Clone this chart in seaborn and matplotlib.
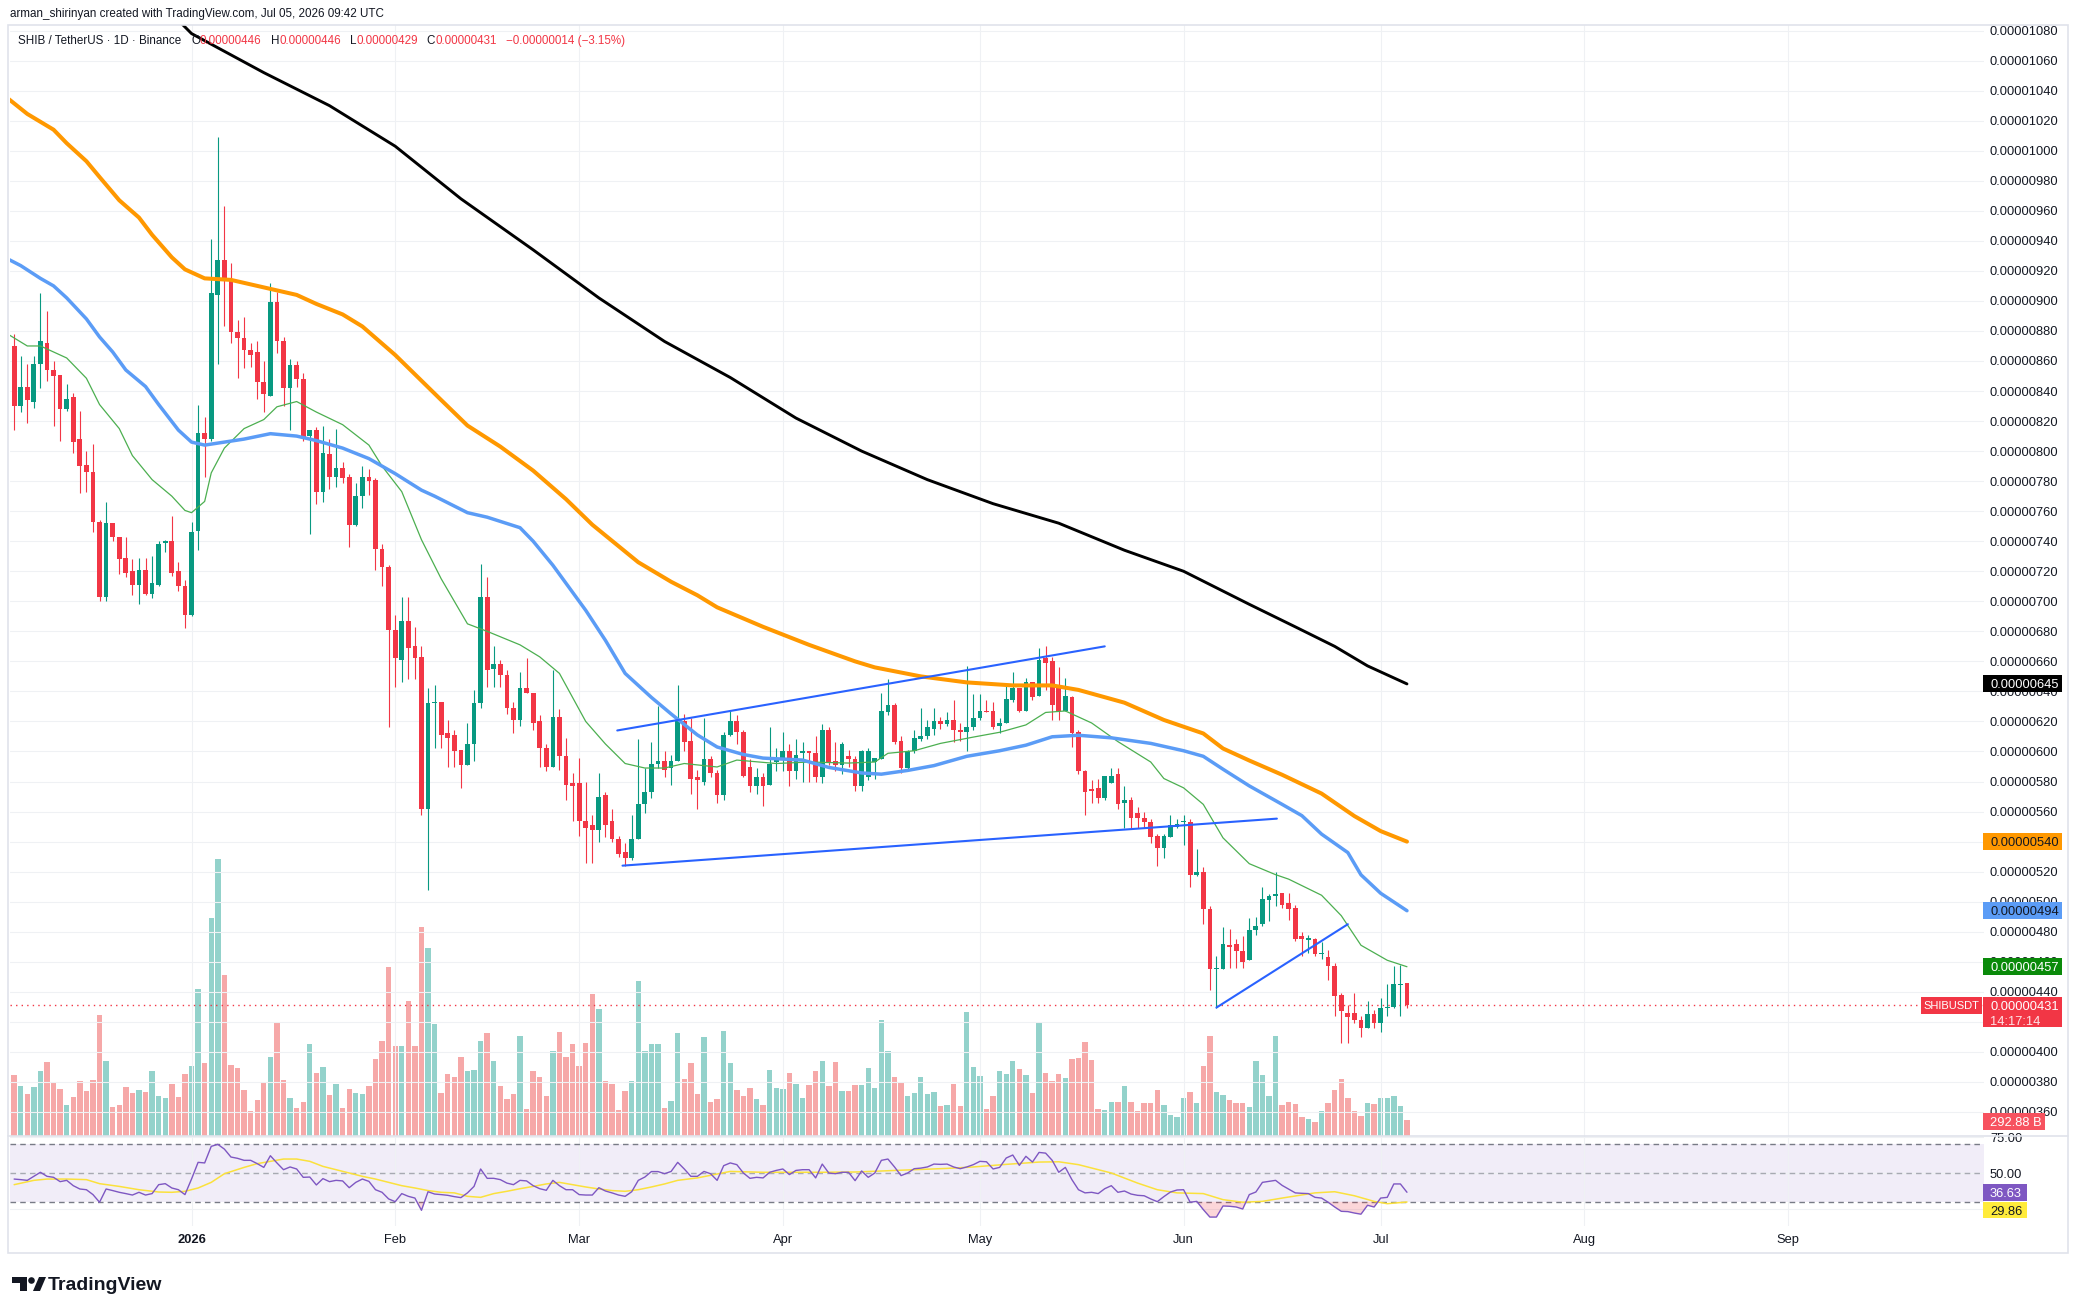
import numpy as np
import pandas as pd
import matplotlib
matplotlib.use("Agg")
import matplotlib.pyplot as plt
import matplotlib.transforms as mtransforms
from matplotlib.patches import Rectangle, Ellipse, Polygon
from matplotlib.lines import Line2D
from matplotlib.ticker import FuncFormatter
import seaborn as sns

sns.set_theme(style="white")
plt.rcParams['font.family'] = ['Liberation Sans', 'DejaVu Sans']

# prices are in units of 1e-8 USDT, volumes in billions of SHIB
first_day = "2025-12-05"

opens = [870, 830, 843, 833, 858, 872, 854, 851, 828, 836,
         808, 791, 786, 753, 703, 752, 743, 729, 720, 711,
         721, 705, 711, 739, 740, 720, 710, 691, 747, 812,
         808, 904, 927, 913, 879, 875, 867, 866, 846, 837,
         899, 873, 842, 857, 848, 810, 814, 773, 798, 783,
         789, 783, 751, 770, 783, 781, 735, 723, 681, 661,
         687, 670, 663, 562, 632, 633, 612, 611, 601, 591,
         605, 632, 703, 655, 658, 651, 629, 621, 642, 639,
         620, 602, 590, 623, 597, 579, 579, 554, 551, 548,
         571, 554, 542, 533, 529, 542, 565, 573, 592, 594,
         589, 594, 620, 607, 583, 580, 595, 586, 571, 611,
         620, 613, 590, 577, 583, 578, 593, 596, 600, 587,
         599, 600, 599, 583, 614, 594, 591, 597, 595, 577,
         583, 593, 595, 626, 631, 607, 589, 600, 608, 610,
         615, 620, 618, 621, 614, 613, 616, 622, 627, 627,
         617, 619, 634, 642, 627, 646, 637, 662, 660, 642,
         627, 636, 613, 587, 575, 576, 569, 579, 585, 566,
         568, 559, 556, 553, 544, 536, 543, 550, 553, 553,
         518, 520, 495, 455, 455, 471, 472, 467, 461, 481,
         485, 501, 504, 506, 499, 496, 477, 474.5, 475, 465,
         463, 457, 438, 426, 426, 421, 416, 425, 419, 429,
         430, 444.5, 446]

highs = [878, 863, 858, 863, 905, 893, 860, 851, 845, 839,
         827, 800, 805, 754, 766, 752, 743, 743, 728, 729,
         729, 730, 740, 741, 757, 726, 714, 753, 831, 823,
         941, 1009, 963, 925, 887, 889, 872, 873, 860, 912,
         906, 876, 861, 860, 852, 814, 816, 817, 808, 815,
         793, 785, 779, 790, 788, 782, 738, 724, 691, 703,
         703, 683, 670, 642, 644, 633, 621, 614, 601, 619,
         641, 725, 716, 670, 661, 654, 633, 653, 662, 639,
         624, 605, 654, 628, 609, 586, 596, 580, 558, 586,
         573, 562, 544, 539, 558, 608, 589, 606, 630, 600,
         598, 644, 625, 622, 588, 622, 597, 588, 613, 627,
         624, 614, 595, 589, 586, 616, 602, 613, 605, 608,
         606, 600, 610, 618, 616, 606, 606, 601, 597, 601,
         602, 596, 639, 648, 632, 610, 601, 614, 629, 621,
         629, 623, 626, 634, 619, 657, 638, 638, 634, 633,
         622, 644, 653, 642, 649, 646, 669, 670, 663, 656,
         649, 637, 614, 588, 581, 582, 584, 589, 589, 577,
         570, 563, 560, 555, 545, 545, 558, 555, 558, 555,
         535, 523, 497, 464, 483, 482, 475, 477, 489, 490,
         510, 505, 520, 506, 506, 498, 480, 478, 476, 473,
         468, 459, 439, 431, 439, 424, 434, 428, 436, 445,
         457, 458, 446]

lows = [814, 826, 819, 829, 842, 847, 817, 807, 827, 799,
        772, 773, 746, 700, 700, 740, 718, 716, 704, 698,
        704, 702, 710, 733, 717, 707, 682, 690, 734, 783,
        807, 858, 883, 872, 849, 855, 856, 835, 826, 837,
        865, 830, 814, 843, 807, 745, 765, 766, 775, 776,
        779, 736, 750, 762, 771, 721, 710, 616, 643, 646,
        648, 648, 558, 508, 602, 602, 590, 590, 576, 591,
        594, 629, 643, 643, 643, 625, 612, 617, 639, 614,
        590, 587, 590, 588, 568, 554, 544, 526, 526, 540,
        543, 540, 530, 524, 528, 542, 559, 569, 589, 583,
        578, 594, 600, 572, 562, 578, 583, 566, 568, 610,
        605, 583, 573, 572, 564, 578, 587, 587, 577, 582,
        580, 580, 580, 579, 591, 587, 585, 590, 574, 574,
        581, 582, 595, 624, 605, 586, 587, 599, 607, 608,
        611, 615, 617, 606, 607, 600, 614, 621, 626, 615,
        612, 619, 633, 626, 627, 634, 637, 641, 621, 621,
        627, 603, 585, 558, 566, 566, 568, 579, 562, 549,
        549, 549, 549, 539, 524, 529, 543, 549, 538, 510,
        517, 485, 441, 429, 455, 456, 456, 456, 461, 478,
        484, 487, 497, 496, 488, 474, 464, 466, 464, 462,
        448, 424, 406, 406, 419, 410, 416, 416, 413, 424,
        429, 424, 429]

closes = [830, 843, 834, 858, 873, 854, 850, 828, 835, 806,
          790, 786, 753, 703, 752, 743, 728, 719, 711, 721,
          705, 712, 738, 740, 719, 710, 691, 746, 812, 808,
          905, 927, 913, 879, 875, 867, 864, 846, 838, 899,
          873, 842, 857, 848, 809, 814, 773, 799, 783, 789,
          782, 751, 770, 783, 780, 735, 723, 681, 662, 687,
          669, 662, 562, 632, 633, 611, 609, 600, 591, 605,
          632, 703, 654, 658, 651, 629, 621, 642, 639, 619,
          602, 590, 623, 597, 578, 577, 554, 549, 548, 570,
          551, 542, 532, 529, 542, 565, 573, 592, 594, 588,
          594, 620, 606, 582, 581, 595, 586, 571, 611, 620,
          613, 584, 577, 583, 577, 592, 596, 600, 587, 598,
          600, 599, 583, 614, 593, 591, 605, 595, 577, 600,
          600, 596, 627, 631, 606, 589, 600, 609, 610, 616,
          620, 618, 621, 614, 613, 616, 622, 627, 626, 616,
          619, 635, 642, 627, 646, 636, 661, 659, 631, 627,
          637, 612, 587, 573, 574, 569, 584, 584, 565, 568,
          556, 556, 553, 543, 536, 544, 551, 552, 553.5, 518,
          520, 495, 455, 456, 472, 470, 467, 460, 481, 484,
          502, 504, 505, 498, 495, 475, 475, 475.5, 465, 466,
          457, 437, 427, 423, 421, 416, 425, 419, 429, 430,
          445, 445.5, 431]

volumes = [1148, 940, 793, 926, 1225, 1392, 1002, 884, 585, 738,
           1037, 849, 1058, 2276, 1413, 550, 585, 926, 807, 870,
           828, 1225, 752, 717, 981, 738, 1169, 1315, 2770, 1378,
           4106, 5213, 3028, 1336, 1281, 870, 473, 682, 1002, 1489,
           2130, 1058, 717, 529, 640, 1733, 1190, 1301, 773, 981,
           529, 884, 807, 781, 949, 1455, 1792, 3184, 1685, 1685,
           2546, 1685, 3938, 3539, 2111, 816, 1171, 1100, 1490, 1215,
           1233, 1792, 1943, 1401, 949, 701, 781, 1889, 514, 1215,
           1100, 745, 1605, 1960, 1490, 1739, 1322, 1756, 2661, 2395,
           1038, 985, 497, 852, 1038, 2918, 1605, 1721, 1739, 532,
           665, 1943, 1064, 1366, 781, 1854, 648, 701, 1977, 1378,
           870, 745, 905, 696, 585, 1246, 905, 884, 1183, 974,
           717, 960, 1225, 1406, 947, 1392, 849, 849, 967, 960,
           1281, 905, 2185, 1601, 1114, 1009, 745, 800, 1114, 786,
           828, 557, 585, 974, 564, 2332, 1288, 1134, 508, 745,
           1218, 1162, 1406, 1267, 1141, 800, 2144, 1176, 1037, 1162,
           1093, 1441, 1476, 1768, 1427, 508, 494, 640, 640, 940,
           640, 473, 619, 619, 870, 585, 397, 362, 717, 828,
           619, 1322, 1886, 828, 773, 675, 626, 626, 550, 1406,
           1155, 752, 1886, 585, 640, 599, 362, 320, 258, 473,
           626, 870, 1072, 710, 473, 376, 612, 599, 710, 710,
           752, 557, 292.88]

rsi = [45.8, 45.4, 44.9, 47.7, 50.5, 47.7, 47.0, 44.0, 44.9, 41.2,
       38.9, 38.4, 35.0, 29.7, 38.9, 37.8, 36.6, 35.7, 34.7, 36.6,
       34.7, 35.7, 41.9, 42.6, 39.6, 38.4, 35.0, 45.8, 57.4, 57.0,
       68.5, 69.9, 66.6, 61.1, 60.2, 58.8, 58.8, 56.5, 53.9, 62.0,
       57.0, 52.3, 54.2, 52.8, 47.0, 47.2, 41.7, 46.1, 44.0, 44.9,
       44.5, 39.8, 43.5, 45.8, 44.2, 38.4, 36.6, 32.0, 30.1, 35.7,
       33.8, 32.6, 24.1, 37.0, 35.4, 35.0, 34.5, 33.6, 32.9, 36.2,
       40.7, 52.8, 46.3, 46.3, 45.4, 43.0, 41.9, 44.9, 44.5, 41.2,
       39.1, 38.0, 44.9, 41.2, 38.4, 38.4, 35.0, 34.7, 34.7, 39.8,
       37.5, 36.2, 34.7, 33.8, 37.0, 44.9, 47.2, 51.0, 51.0, 49.5,
       51.1, 57.4, 52.8, 47.7, 47.7,
       51.1, 49.5, 44.9, 55.1, 57.0, 55.8, 50.0, 46.3, 47.0, 46.6,
       50.5, 51.8, 52.8, 48.9, 51.8, 52.3, 52.3, 46.6, 56.2, 50.0,
       49.5, 50.5, 50.5, 44.7, 51.4, 47.0, 50.0, 58.8, 59.7, 54.2,
       48.2, 50.0, 53.0, 53.4, 54.2, 56.2, 56.0, 56.2, 54.2, 53.0,
       54.2, 55.8, 58.1, 57.8, 52.8, 53.9, 60.4, 62.5, 55.3, 61.6,
       57.6, 64.3, 63.8, 58.8,
       50.5, 53.9, 45.4, 38.4, 36.2, 36.6, 35.7, 39.1, 41.2, 36.6,
       37.5, 35.4, 34.5, 34.2, 32.0, 30.1, 33.6, 36.8, 38.2, 38.4,
       29.7, 30.3, 24.6, 19.4, 19.4, 27.1, 26.9, 26.4, 25.0, 35.0,
       36.8, 43.5, 44.2, 44.9, 41.4, 38.8,
       36.2, 35.9, 35.7, 33.1, 32.6, 29.7, 26.4, 23.4, 23.2, 22.2,
       21.4, 27.6, 26.4, 32.6, 33.1, 42.4, 42.4, 36.63]

# RSI moving average, sampled at candle indices
rsi_ma_idx = [0, 3, 5, 8, 11, 13, 16, 19, 22, 24, 26, 28, 30, 32, 35, 37, 39, 41, 43, 45,
              47, 49, 51, 53, 55, 57, 59, 61, 63, 65, 67, 69, 71, 73, 75, 77, 79, 81, 83, 85,
              87, 89, 91, 93, 95, 97, 99, 101, 104, 109, 114, 118, 123, 128, 132, 137, 142, 146, 151, 156,
              159, 162, 167, 171, 174, 177, 181, 184, 187, 190, 193, 198, 201, 204, 207, 209, 212]
rsi_ma = [41.9, 44.9, 45.8, 45.8, 45.4, 42.6, 40.7, 38.4, 36.8, 36.6, 37.3, 39.6, 43.5, 49.5, 53.9, 56.5, 58.1, 59.7, 59.7, 58.1,
          54.6, 52.3, 50.0, 47.7, 45.8, 43.5, 41.2, 39.6, 37.8, 36.6, 36.2, 33.8, 33.1, 35.7, 37.3, 39.1, 40.7, 42.4, 43.5, 41.9,
          40.3, 38.9, 37.8, 37.3, 38.4, 40.3, 42.4, 44.9, 46.6, 51.1, 50.5, 50.5, 50.5, 50.7, 51.4, 52.3, 53.2, 54.2, 56.0, 57.6,
          57.8, 55.8, 50.0, 43.0, 38.4, 36.2, 35.7, 31.5, 29.7, 30.3, 32.6, 36.2, 37.0, 34.2, 30.3, 28.7, 29.86]

# moving averages, sampled (days since 2026-01-01, value)
ma200_day = [-5, 0, 11, 21, 31, 41, 52, 62, 72, 82, 92, 102, 112, 122, 132, 142, 151, 161, 168, 174, 179, 185]
ma200_val = [1100, 1078, 1052, 1030, 1003, 968, 934, 902, 873, 849, 822, 800, 781, 765, 752, 734, 720, 698, 683, 670, 657, 645]

ma100_day = [-28, -25, -21, -19, -16, -14, -11, -8, -6, -3, -1, 2, 6, 11, 16, 19, 23, 26, 31, 38,
             42, 47, 52, 57, 61, 68, 73, 77, 80, 87, 94, 101, 104, 111, 118, 125, 131, 135, 142, 148,
             154, 157, 161, 166, 172, 177, 181, 185]
ma100_val = [1035, 1024.5, 1014, 1005, 993, 982.5, 967, 955.5, 944, 929, 921, 915, 914, 909, 904, 898, 891, 883, 864, 834,
             817, 803, 787, 768, 751, 726, 713, 704, 696, 683, 671, 660, 656, 650, 646, 644, 644, 641, 632.5, 621,
             612, 602, 594, 584.5, 572, 557, 547, 540]

ma50_day = [-28, -26, -23, -21, -19, -16, -14, -12, -10, -7, -5, -2, 0, 2, 5, 8, 12, 16, 19, 23,
            27, 31, 35, 37, 42, 45, 50, 52, 55, 60, 63, 66, 70, 73, 77, 80, 84, 87, 93, 97,
            102, 105, 109, 113, 118, 123, 127, 131, 135, 140, 146, 151, 154, 157, 161, 166, 169, 172, 176, 178,
            181, 185]
ma50_val = [928, 923.5, 915, 910, 902, 888, 876, 866, 854, 843, 831, 814, 806, 804, 806, 808, 811.6, 810, 807, 802,
            795, 785, 774, 770, 759, 756, 749, 740, 724, 694, 674, 652, 636, 625, 611, 603, 598, 595.6, 594.3, 589.4,
            585.7, 584.9, 587.4, 590.6, 596.8, 600.5, 604.2, 609.8, 610.8, 609.1, 605.4, 600.5, 596.8, 588.2, 577.1, 564.8, 557.3, 545, 532.7, 517.9,
            505.6, 494]

ma20_day = [-28, -25, -23, -19, -16, -14, -11, -9, -6, -3, -1, 0, 2, 3, 5, 8, 11, 13, 16, 19,
            23, 27, 29, 32, 35, 38, 42, 45, 50, 53, 56, 60, 63, 66, 69, 72, 75, 78, 80, 83,
            89, 94, 100, 104, 106, 110, 114, 119, 123, 127, 130, 133, 137, 141, 146, 148, 151, 154, 157, 161,
            165, 167, 172, 175, 178, 182, 185]
ma20_val = [878, 870, 870, 862, 848.5, 831, 815, 797, 781, 770, 760.5, 759, 766.5, 785.5, 802, 815, 821, 829.5, 833, 826,
            817.6, 804, 790, 773, 741, 715, 685, 680, 671, 663, 652, 620, 605, 592, 589, 589, 592, 590.6, 589.7, 594.3,
            592, 593, 592.3, 593, 598.8, 600.5, 605.4, 609.6, 612.8, 617.7, 626, 627, 619, 606.6, 593, 582, 575.8, 564.8, 542.5, 525.3,
            518, 515, 504.3, 490.7, 471, 461, 456.7]

# hand-drawn trend lines (day, price)
trend_lines = [([64.8, 139.0], [614, 670]),
               ([65.6, 165.2], [524, 555.3]),
               ([156.0, 176.0], [429.5, 485])]

month_labels = ["2026", "Feb", "Mar", "Apr", "May", "Jun", "Jul", "Aug", "Sep"]
ohlc_header = [("O", "0.00000446"), ("H", "0.00000446"), ("L", "0.00000429"), ("C", "0.00000431")]
change_text = "\u22120.00000014 (\u22123.15%)"
hidden_ticks = [420, 540]   # fully covered by value tags on the price scale

assert len(opens) == len(highs) == len(lows) == len(closes) == len(volumes) == len(rsi)

GREEN, RED = "#089981", "#f23645"
VOL_G, VOL_R = "#93d2cb", "#f6a8a8"
GRID = "#eff1f4"
TXT = "#131722"
FS = 9.3

W, H = 2078, 1314


def fx(px):
    return px / W


def fy(py):
    return 1 - py / H


fig = plt.figure(figsize=(W / 100, H / 100), dpi=100)
fig.patch.set_facecolor("white")

ax = fig.add_axes([fx(10), fy(1136), fx(1984) - fx(10), fy(25) - fy(1136)])
axr = fig.add_axes([fx(10), fy(1226), fx(1984) - fx(10), fy(1136) - fy(1226)], sharex=ax)
axv = ax.twinx()
axv.set_zorder(0)
ax.set_zorder(1)
ax.patch.set_visible(False)

dates = pd.date_range(first_day, periods=len(closes), freq="D")
days = (dates - pd.Timestamp("2026-01-01")).days.to_numpy()
o, h, l, c = (np.array(v, dtype=float) for v in (opens, highs, lows, closes))
up = c >= o

# volume
axv.bar(days, volumes, width=0.82, color=np.where(up, VOL_G, VOL_R), linewidth=0)
axv.set_ylim(0, 20890)
axv.set_yticks([])
axv.tick_params(right=False, labelright=False)

# candles
cols = np.where(up, GREEN, RED)
ax.vlines(days, l, h, colors=cols, linewidth=0.8, zorder=3)
ax.bar(days, np.maximum(np.abs(c - o), 0.8), bottom=np.minimum(o, c), width=0.72,
       color=cols, linewidth=0, zorder=4)

# moving averages
sns.lineplot(x=ma20_day, y=ma20_val, ax=ax, color="#4caf50", linewidth=0.9, zorder=5)
sns.lineplot(x=ma50_day, y=ma50_val, ax=ax, color="#5b9cf6", linewidth=2.5, zorder=5)
sns.lineplot(x=ma100_day, y=ma100_val, ax=ax, color="#ff9800", linewidth=2.9, zorder=5)
sns.lineplot(x=ma200_day, y=ma200_val, ax=ax, color="black", linewidth=2.1, zorder=5)
for tx, ty in trend_lines:
    ax.plot(tx, ty, color="#2962ff", linewidth=1.5, zorder=6, solid_capstyle="round")

ax.axhline(closes[-1], color=RED, linewidth=1, linestyle=(0, (1, 3)), zorder=2)

ax.set_xlim(-27.63, 272.83)
ax.set_ylim(344.0, 1083.7)
ax.set_yticks(np.arange(360, 1081, 20))
ax.yaxis.set_major_formatter(FuncFormatter(
    lambda v, _: "" if round(v) in hidden_ticks else f"{v / 1e8:.8f}"))
ax.yaxis.tick_right()
ax.tick_params(axis="y", length=0, pad=4.3, labelsize=FS, labelcolor=TXT, left=False, labelleft=False)
ax.tick_params(axis="x", length=0, labelbottom=False)
ax.grid(True, color=GRID, linewidth=0.8)
ax.set_axisbelow(True)

month_days = [(pd.Timestamp(f"2026-{m:02d}-01") - pd.Timestamp("2026-01-01")).days for m in range(1, 10)]
axr.set_xticks(month_days)
axr.set_xticklabels(month_labels)
axr.tick_params(axis="x", length=0, pad=5.5, labelsize=FS, labelcolor=TXT)
axr.get_xticklabels()[0].set_fontweight("bold")

# RSI pane
axr.set_ylim(13.2, 75.7)
axr.axhspan(30, 70, color="#7e57c2", alpha=0.1, linewidth=0, zorder=0)
for lvl, a in ((70, 1.0), (50, 0.6), (30, 1.0)):
    axr.axhline(lvl, color="#787b86", linewidth=1, linestyle=(0, (4, 3)), alpha=a, zorder=1)
r = np.array(rsi)
axr.fill_between(days, r, 30, where=r < 30, interpolate=True, color=RED, alpha=0.2, linewidth=0, zorder=1)
sns.lineplot(x=days[rsi_ma_idx], y=rsi_ma, ax=axr, color="#fbe13c", linewidth=1.1, zorder=2)
sns.lineplot(x=days, y=r, ax=axr, color="#7e57c2", linewidth=1.0, zorder=3)
axr.set_yticks([25, 50, 75])
axr.set_yticklabels(["", "50.00", "75.00"])
axr.yaxis.tick_right()
axr.tick_params(axis="y", length=0, pad=4.3, labelsize=FS, labelcolor=TXT, left=False, labelleft=False)
axr.grid(True, color=GRID, linewidth=0.8)
axr.set_axisbelow(True)
axr.set_xlabel("")
axr.set_ylabel("")
ax.set_xlabel("")
ax.set_ylabel("")

for a in (ax, axv, axr):
    for s in a.spines.values():
        s.set_visible(False)


def tag(host, ytrans, yval, text, fc, tc, half_h, x0=1983, x1=2062, tx=1990, ha="left", size=FS):
    tr = mtransforms.blended_transform_factory(host.transAxes, ytrans)
    host.add_patch(Rectangle(((x0 - 10) / 1974, yval - half_h), (x1 - x0) / 1974, 2 * half_h,
                             transform=tr, facecolor=fc, edgecolor="none", clip_on=False, zorder=20))
    host.text((tx - 10) / 1974, yval, text, transform=tr, ha=ha, va="center_baseline",
              fontsize=size, color=tc, zorder=21, clip_on=False)


PH = 5.7   # half height of a price tag in price units
tag(ax, ax.transData, ma200_val[-1], f"{ma200_val[-1] / 1e8:.8f}", "#000000", "white", PH)
tag(ax, ax.transData, ma100_val[-1], f"{ma100_val[-1] / 1e8:.8f}", "#ff9800", TXT, PH)
tag(ax, ax.transData, ma50_val[-1], f"{ma50_val[-1] / 1e8:.8f}", "#5b9cf6", TXT, PH)
tag(ax, ax.transData, 457, "0.00000457", "#0a8a0a", "white", PH)

# last price tag with countdown
tr = mtransforms.blended_transform_factory(ax.transAxes, ax.transData)
ax.add_patch(Rectangle(((1983 - 10) / 1974, 416.6), (2062 - 1983) / 1974, 19.9, transform=tr,
                       facecolor=RED, edgecolor="none", clip_on=False, zorder=20))
ax.text((1990 - 10) / 1974, closes[-1], f"{closes[-1] / 1e8:.8f}", transform=tr, ha="left",
        va="center_baseline", fontsize=FS, color="white", zorder=21)
ax.text((1990 - 10) / 1974, 421.2, "14:17:14", transform=tr, ha="left",
        va="center_baseline", fontsize=FS, color="#fde2e5", zorder=21)
tag(ax, ax.transData, closes[-1], "SHIBUSDT", RED, "white", PH, x0=1921, x1=1982, tx=1951.5,
    ha="center", size=8.0)

# volume tag
tag(ax, axv.transData, volumes[-1] - 20, f"{volumes[-1]:.2f} B", "#f7525f", "white", 160, x1=2045)

# RSI tags
tag(axr, axr.transData, rsi[-1], f"{rsi[-1]:.2f}", "#7e57c2", "white", 5.9, x1=2027)
tag(axr, axr.transData, 24.3, f"{rsi_ma[-1]:.2f}", "#ffeb3b", TXT, 5.6, x1=2027)

# frame
fig.add_artist(Rectangle((fx(8), fy(1253)), fx(2068) - fx(8), fy(25) - fy(1253), transform=fig.transFigure,
                         fill=False, edgecolor="#e0e3eb", linewidth=1.2, zorder=30))
fig.add_artist(Line2D([fx(8), fx(2068)], [fy(1136), fy(1136)], transform=fig.transFigure,
                      color="#e0e3eb", linewidth=1.2, zorder=30))

# header
fig.text(fx(10), fy(14), "arman_shirinyan created with TradingView.com, Jul 05, 2026 09:42 UTC",
         fontsize=8.4, color=TXT, va="center")
fig.text(fx(18), fy(41), "SHIB / TetherUS \u00b7 1D \u00b7 Binance", fontsize=8.4, color=TXT, va="center")
renderer = fig.canvas.get_renderer()
xpos = 191
for letter, val in ohlc_header:
    t1 = fig.text(fx(xpos), fy(41), letter, fontsize=8.4, color=TXT, va="center")
    xpos += t1.get_window_extent(renderer).width
    t2 = fig.text(fx(xpos), fy(41), val, fontsize=8.4, color=RED, va="center")
    xpos += t2.get_window_extent(renderer).width + 9
fig.text(fx(xpos), fy(41), change_text, fontsize=8.4, color=RED, va="center")

# TradingView logo
logo = TXT
fig.add_artist(Rectangle((fx(12), fy(1283)), fx(27) - fx(12), fy(1277) - fy(1283), transform=fig.transFigure,
                         facecolor=logo, edgecolor="none"))
fig.add_artist(Rectangle((fx(20), fy(1291)), fx(27) - fx(20), fy(1277) - fy(1291), transform=fig.transFigure,
                         facecolor=logo, edgecolor="none"))
fig.add_artist(Ellipse((fx(31.5), fy(1280.5)), 6.6 / W, 6.6 / H, transform=fig.transFigure,
                       facecolor=logo, edgecolor="none"))
fig.add_artist(Polygon([(fx(33), fy(1291)), (fx(39), fy(1277)), (fx(46), fy(1277)), (fx(40), fy(1291))],
                       closed=True, transform=fig.transFigure, facecolor=logo, edgecolor="none"))
fig.text(fx(48), fy(1290), "TradingView", fontsize=14, fontweight="bold", color=logo, va="baseline")

fig.savefig("out.png", dpi=100)
